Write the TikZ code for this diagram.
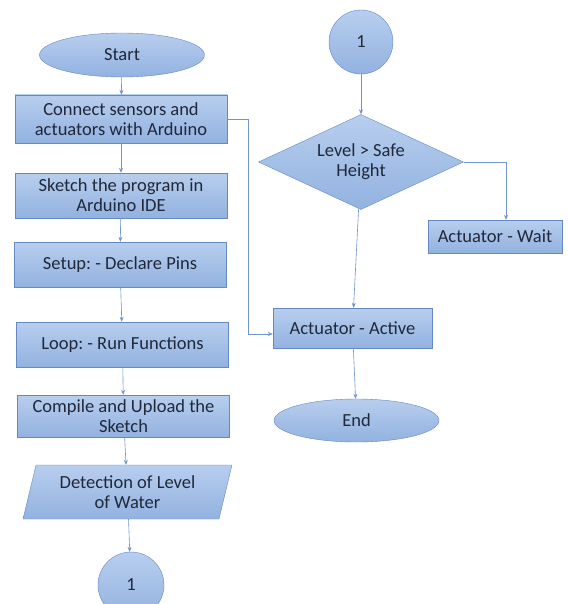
\documentclass[tikz,border=0pt]{standalone}
\usepackage{fontspec}
\setmainfont{Carlito}
\frenchspacing
\usetikzlibrary{
	arrows.meta,
	shapes.geometric
}

\definecolor{flowtop}{RGB}{184,206,238}
\definecolor{flowbot}{RGB}{146,178,224}
\definecolor{flowedge}{RGB}{100,136,194}
\definecolor{flowarrow}{RGB}{112,148,204}
\definecolor{flowtext}{RGB}{32,40,58}

\begin{document}
\begin{tikzpicture}[x=1pt,y=-1pt,
		font=\fontsize{18.5}{20}\selectfont,
		block/.style={draw=flowedge,top color=flowtop,bottom color=flowbot,text=flowtext,align=center,inner sep=2pt},
		proc/.style={block,rectangle,minimum width=212pt},
		term/.style={block,ellipse,minimum width=165pt,minimum height=44pt},
		joint/.style={block,circle,minimum size=66pt},
		flow/.style={draw=flowarrow,semithick,-{Stealth[length=5pt,width=4pt]}}
	]
			
			\useasboundingbox (0,0) rectangle (567,604);
			
			\node[term] (start) at (122,55) {Start};
			\node[proc,minimum height=48pt] (conn) at (121,119) {Connect sensors and\\actuators with Arduino};
			\node[proc,minimum height=45pt] (sketch) at (121,195.5) {Sketch the program in\\Arduino IDE};
			\node[proc,minimum height=45pt] (setup) at (120,264.5) {Setup: - Declare Pins};
			\node[proc,minimum height=45pt] (loop) at (122.5,344.5) {Loop: - Run Functions};
			\node[proc,minimum height=42pt] (upload) at (123.5,416) {Compile and Upload the\\Sketch};
			\node[block,trapezium,trapezium left angle=75,trapezium right angle=105,trapezium stretches=true,minimum width=209pt,minimum height=54pt] (detect) at (127.5,492) {Detection of Level\\of Water};
			\node[joint] (oneb) at (131,585) {1};
			
			\node[joint,minimum size=64pt] (onea) at (361,42) {1};
			\node[block,diamond,aspect=2.16,minimum width=205pt,minimum height=95pt] (check) at (361,162) {Level > Safe\\Height};
			\node[block,rectangle,minimum width=134pt,minimum height=33pt] (wait) at (495,236.5) {Actuator - Wait};
			\node[block,rectangle,minimum width=159pt,minimum height=40pt] (active) at (352.5,328) {Actuator - Active};
			\node[term,minimum height=43pt] (finish) at (356.5,420.5) {End};
			
			\draw[flow] (start) -- (conn);
			\draw[flow] (conn) -- (sketch);
			\draw[flow] (sketch) -- (setup);
			\draw[flow] (setup) -- (loop);
			\draw[flow] (loop) -- (upload);
			\draw[flow] (upload) -- (detect);
			\draw[flow] (detect) -- (oneb);
			
			\draw[flow] (onea) -- (check);
			\draw[flow] (check) -- (active);
			\draw[flow] (check.east) -| ([xshift=11pt]wait.north);
			\draw[flow] (conn.east) -- ++(21,0) |- ([yshift=-6pt]active.west);
			\draw[flow] (active) -- (finish);
			
		\end{tikzpicture}
\end{document}
